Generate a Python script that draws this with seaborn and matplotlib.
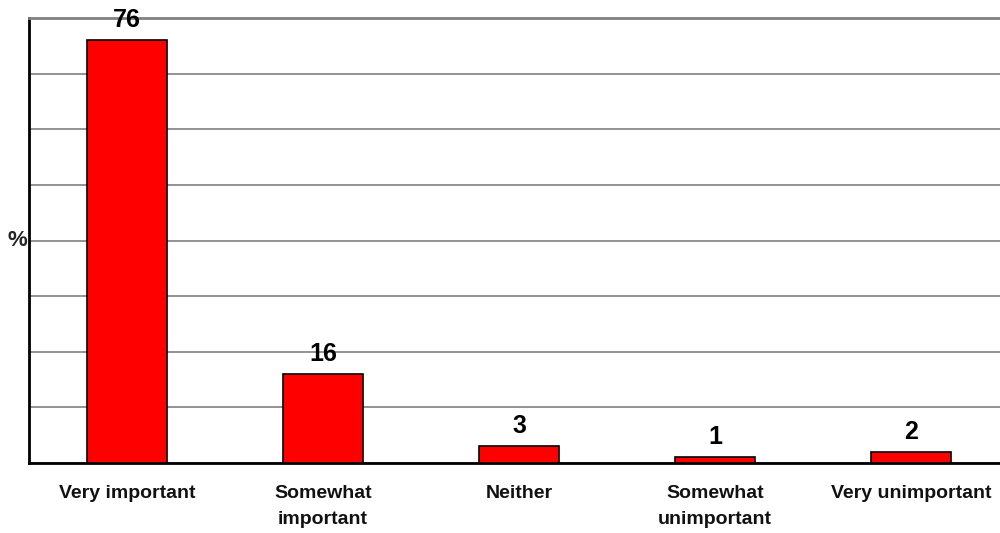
import matplotlib
matplotlib.use("Agg")
import matplotlib.pyplot as plt
import seaborn as sns
import pandas as pd

categories = ["Very important", "Somewhat\nimportant", "Neither", "Somewhat\nunimportant", "Very unimportant"]
values = [76, 16, 3, 1, 2]

sns.set_theme(style="white")
plt.rcParams['font.family'] = ['Liberation Sans', 'DejaVu Sans']

df = pd.DataFrame({"cat": categories, "val": values})

fig = plt.figure(figsize=(10, 5.33), dpi=100)
ax = fig.add_axes([0.029, 1 - 463/533, 1.009 - 0.029, (463 - 18) / 533])

sns.barplot(data=df, x="cat", y="val", color="#FF0000", width=0.41,
            edgecolor="black", linewidth=1.2, saturation=1, ax=ax, zorder=3)

ax.set_ylim(0, 80)
ax.set_yticks(range(0, 81, 10))
ax.set_yticklabels([])
ax.tick_params(axis='y', length=0)
ax.tick_params(axis='x', length=0, pad=16)
ax.yaxis.grid(True, color="#808080", linewidth=1.2, zorder=0)
ax.set_axisbelow(True)
for lbl in ax.get_xticklabels():
    lbl.set_fontweight('bold')
    lbl.set_fontsize(14)
    lbl.set_color('#111111')
    lbl.set_linespacing(1.65)

ax.set_xlabel("")
ax.set_ylabel("")
ax.spines["right"].set_visible(False)
ax.spines["top"].set_color("#808080")
ax.spines["top"].set_linewidth(2)
ax.spines["left"].set_color("black")
ax.spines["left"].set_linewidth(2)
ax.spines["bottom"].set_color("black")
ax.spines["bottom"].set_linewidth(2)

for c in ax.containers:
    ax.bar_label(c, labels=[str(v) for v in values], padding=6,
                 fontsize=18, fontweight='bold', color='black')

fig.text(0.007, 1 - 241/533, "%", fontsize=16, fontweight='bold', ha='left', va='center')

fig.savefig("out.png", dpi=100)
